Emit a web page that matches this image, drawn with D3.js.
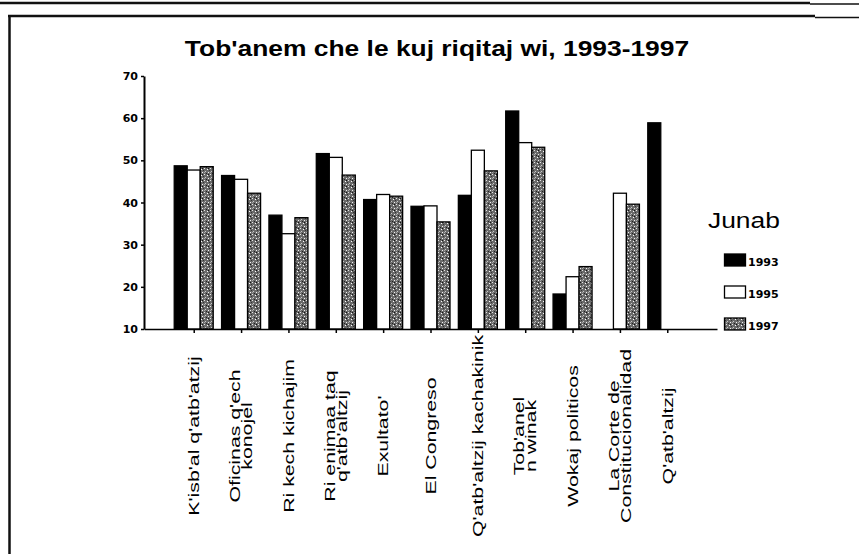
<!DOCTYPE html>
<html>
<head>
<meta charset="utf-8">
<script src="https://cdn.jsdelivr.net/npm/d3@7"></script>
<style>
  body { margin: 0; background: #fff; }
  svg { display: block; font-family: "Liberation Sans", Arial, sans-serif; }
</style>
</head>
<body>
<script>
// categories (each label split into the lines shown under the axis)
const categories = [
  "K'isb'al q'atb'atzij",
  "Oficinas q'ech konojel",
  "Ri kech kichajim",
  "Ri enimaa taq q'atb'altzij",
  "Exultato'",
  "El Congreso",
  "Q'atb'altzij kachakinik",
  "Tob'anel n winak",
  "Wokaj politicos",
  "La Corte de Constitucionalidad",
  "Q'atb'altzij"
];
const labelLines = [
  ["K'isb'al q'atb'atzij"],
  ["Oficinas q'ech", "konojel"],
  ["Ri kech kichajim"],
  ["Ri enimaa taq", "q'atb'altzij"],
  ["Exultato'"],
  ["El Congreso"],
  ["Q'atb'altzij kachakinik"],
  ["Tob'anel", "n winak"],
  ["Wokaj politicos"],
  ["La Corte de", "Constitucionalidad"],
  ["Q'atb'altzij"]
];
const years = ['1993', '1995', '1997'];
const values1993 = [48.7, 46.4, 37.0, 51.6, 40.7, 39.1, 41.7, 61.7, 18.3, null, 58.9];
const values1995 = [47.7, 45.5, 32.6, 50.7, 41.9, 39.2, 52.4, 54.2, 22.4, 42.2, null];
const values1997 = [48.5, 42.2, 36.4, 46.5, 41.5, 35.4, 47.5, 53.1, 24.8, 39.6, null];
const yTicks = [10, 20, 30, 40, 50, 60, 70];

const titleText = "Tob'anem che le kuj riqitaj wi, 1993-1997";
const legendTitle = 'Junab';

const render = () => {
  const width = 859;
  const height = 554;

  const series = { '1993': values1993, '1995': values1995, '1997': values1997 };
  const dataset = [];
  categories.forEach((c, i) => {
    years.forEach(y => {
      const v = series[y][i];
      if (v !== null) dataset.push({ cat: c, year: y, value: v });
    });
  });

  const svg = d3.select('body').append('svg')
    .attr('width', width)
    .attr('height', height);

  // stipple pattern for 1997 bars
  const defs = svg.append('defs');
  const pat = defs.append('pattern')
    .attr('id', 'stipple')
    .attr('patternUnits', 'userSpaceOnUse')
    .attr('width', 6).attr('height', 6);
  pat.append('rect').attr('width', 6).attr('height', 6).attr('fill', '#6a6a6a');
  [[0, 0, '#e6e6e6'], [3, 1, '#ffffff'], [1, 3, '#c8c8c8'], [4, 4, '#f2f2f2'], [2, 5, '#222'], [5, 2, '#333'], [0, 4, '#aaa'], [4, 0, '#111']]
    .forEach(p => pat.append('rect').attr('x', p[0]).attr('y', p[1]).attr('width', 1).attr('height', 1).attr('fill', p[2]));

  svg.append('rect').attr('width', width).attr('height', height).attr('fill', '#fff');

  // page frame
  svg.append('line').attr('x1', 0).attr('x2', 810).attr('y1', 3).attr('y2', 3)
    .attr('stroke', '#111').attr('stroke-width', 2.5);
  svg.append('line').attr('x1', 810).attr('x2', width).attr('y1', 4).attr('y2', 4)
    .attr('stroke', '#111').attr('stroke-width', 1.5);
  svg.append('line').attr('x1', 8).attr('x2', 815).attr('y1', 16).attr('y2', 16)
    .attr('stroke', '#111').attr('stroke-width', 2.5);
  svg.append('line').attr('x1', 815).attr('x2', width).attr('y1', 17.5).attr('y2', 17.5)
    .attr('stroke', '#111').attr('stroke-width', 1.5);
  svg.append('line').attr('x1', 9.5).attr('x2', 9.5).attr('y1', 15).attr('y2', height)
    .attr('stroke', '#111').attr('stroke-width', 2.5);

  // title
  svg.append('text')
    .attr('transform', 'translate(437, 56) scale(1.2, 1)')
    .attr('text-anchor', 'middle')
    .attr('font-weight', 'bold')
    .attr('font-size', 22)
    .text(titleText);

  // scales
  const xScale = d3.scalePoint()
    .domain(categories)
    .range([144, 717])
    .padding(1.05);

  const inner = d3.scaleBand()
    .domain(years)
    .range([-19.5, 19.5]);

  const yScale = d3.scaleLinear()
    .domain([10, 70])
    .range([329, 76]);

  const colorOf = { '1993': '#000', '1995': '#fff', '1997': 'url(#stipple)' };

  // bars
  svg.append('g').selectAll('rect').data(dataset)
    .enter().append('rect')
    .attr('x', d => xScale(d.cat) + inner(d.year))
    .attr('y', d => yScale(d.value))
    .attr('width', inner.bandwidth())
    .attr('height', d => yScale(10) - yScale(d.value))
    .attr('fill', d => colorOf[d.year])
    .attr('stroke', '#000')
    .attr('stroke-width', 1.3);

  // y axis
  const yAxis = d3.axisLeft(yScale)
    .tickValues(yTicks)
    .tickSize(3)
    .tickSizeOuter(0)
    .tickPadding(3);
  const yAxisG = svg.append('g')
    .attr('transform', 'translate(144, 0)')
    .call(yAxis);
  yAxisG.select('.domain').attr('stroke-width', 2);
  yAxisG.selectAll('.tick line').attr('stroke-width', 1.5);
  yAxisG.selectAll('.tick text')
    .attr('font-family', '"DejaVu Sans", sans-serif')
    .attr('font-weight', 'bold')
    .attr('font-size', 11)
    .attr('fill', '#000');

  // x axis
  const xAxis = d3.axisBottom(xScale)
    .tickSize(4)
    .tickSizeOuter(0)
    .tickFormat('');
  const xAxisG = svg.append('g')
    .attr('transform', 'translate(0, 329)')
    .call(xAxis);
  xAxisG.select('.domain').attr('stroke-width', 1.5);
  xAxisG.selectAll('.tick line').attr('stroke-width', 1.5);

  // x labels, rotated
  const labels = svg.append('g');
  categories.forEach((c, i) => {
    const lines = labelLines[i];
    const g = labels.append('g')
      .attr('transform', `translate(${xScale(c)}, 436) rotate(-90) scale(1.42, 1)`);
    lines.forEach((ln, j) => {
      const off = lines.length === 1 ? 0 : (j === 0 ? -6.5 : 6);
      g.append('text')
        .attr('x', 0)
        .attr('y', off)
        .attr('dy', '0.35em')
        .attr('text-anchor', 'middle')
        .attr('font-size', 15)
        .text(ln);
    });
  });

  // legend
  const legend = svg.append('g');
  legend.append('text')
    .attr('transform', 'translate(708, 228) scale(1.2, 1)')
    .attr('font-size', 22)
    .text(legendTitle);
  const legendY = d3.scalePoint().domain(years).range([254, 318]);
  years.forEach(y => {
    legend.append('rect')
      .attr('x', 724.5).attr('y', legendY(y))
      .attr('width', 21).attr('height', 12)
      .attr('fill', colorOf[y])
      .attr('stroke', '#000')
      .attr('stroke-width', 1.3);
    legend.append('text')
      .attr('x', 748).attr('y', legendY(y) + 12)
      .attr('font-family', '"DejaVu Sans", sans-serif')
      .attr('font-weight', 'bold')
      .attr('font-size', 11)
      .text(y);
  });
};

document.addEventListener('DOMContentLoaded', render);
</script>
</body>
</html>
